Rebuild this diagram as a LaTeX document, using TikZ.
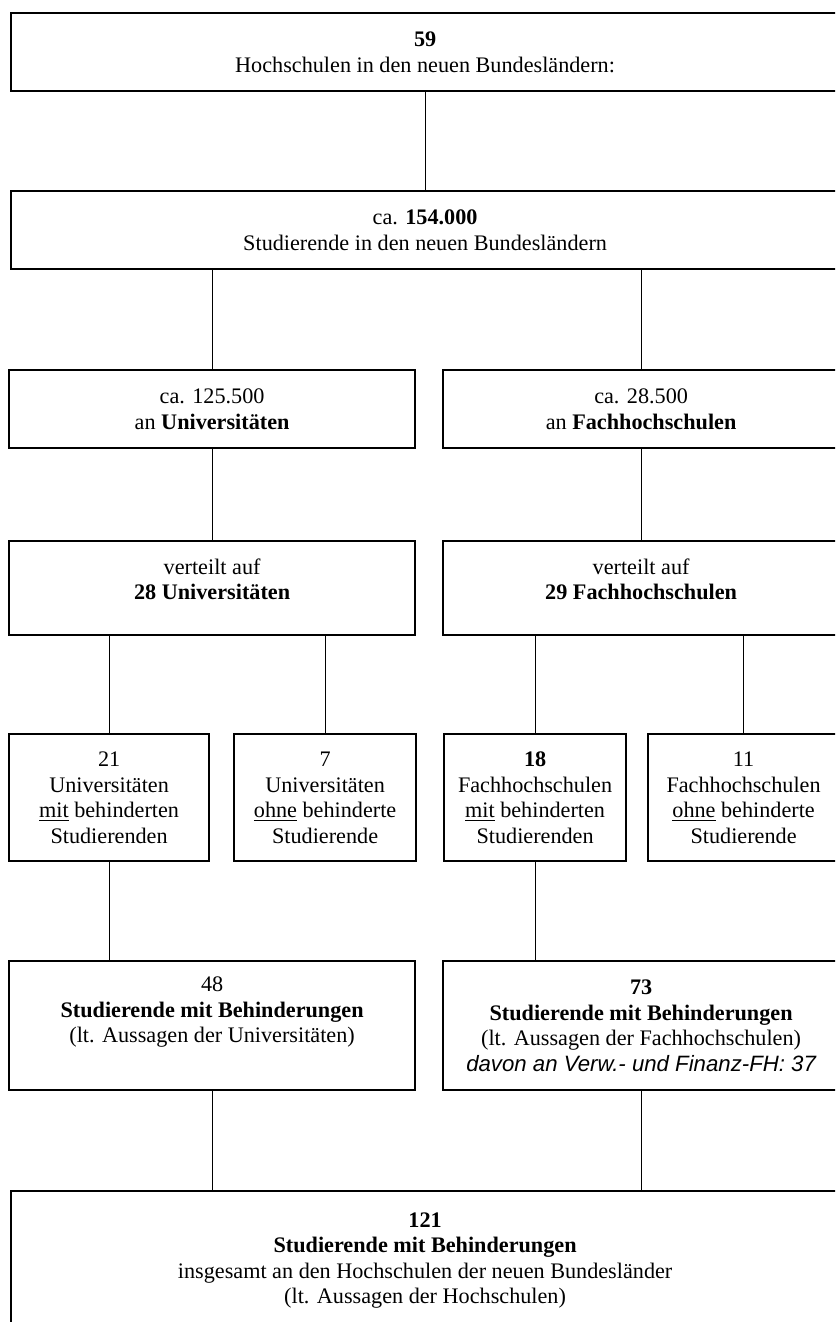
\documentclass[tikz,border=0pt]{standalone}
\usepackage{fontspec}
\setmainfont{Liberation Serif}
\newfontfamily\sansit{Liberation Sans}
\usetikzlibrary{calc}

\tikzset{
    box/.style={draw, line width=1.1pt, inner sep=0pt, align=center, anchor=north west,
                font=\fontsize{11.1}{12.75}\selectfont},
    link/.style={line width=0.55pt},
}

\begin{document}
\begin{tikzpicture}[x=0.5pt, y=-0.5pt]
    \useasboundingbox (0,0) rectangle (835,1322);
    \clip (0,0) rectangle (835,1322);

    % Hochschulen und Studierende
    \node[box, minimum width=414pt, minimum height=39pt] (hs) at (10,12)
        {\textbf{59}\\Hochschulen in den neuen Bundesländern:};
    \node[box, minimum width=414pt, minimum height=39pt] (stud) at (10,190)
        {ca. \textbf{154.000}\\Studierende in den neuen Bundesländern};

    % Universitaeten und Fachhochschulen
    \node[box, minimum width=203pt, minimum height=39pt] (uni) at (8,369)
        {ca. 125.500\\an \textbf{Universitäten}};
    \node[box, minimum width=198pt, minimum height=39pt] (fh) at (442,369)
        {ca. 28.500\\an \textbf{Fachhochschulen}};

    \node[box, minimum width=203pt, minimum height=47pt, text depth=9pt] (vuni) at (8,540)
        {verteilt auf\\\textbf{28 Universitäten}};
    \node[box, minimum width=198pt, minimum height=47pt, text depth=9pt] (vfh) at (442,540)
        {verteilt auf\\\textbf{29 Fachhochschulen}};

    % mit / ohne behinderte Studierende
    \node[box, minimum width=100pt, minimum height=63.5pt] (unimit) at (8,733)
        {21\\Universitäten\\\underline{mit} behinderten\\Studierenden};
    \node[box, minimum width=91pt, minimum height=63.5pt] (uniohne) at (233,733)
        {7\\Universitäten\\\underline{ohne} behinderte\\Studierende};
    \node[box, minimum width=91pt, minimum height=63.5pt] (fhmit) at (443,733)
        {\textbf{18}\\Fachhochschulen\\\underline{mit} behinderten\\Studierenden};
    \node[box, minimum width=95.5pt, minimum height=63.5pt] (fhohne) at (647,733)
        {11\\Fachhochschulen\\\underline{ohne} behinderte\\Studierende};

    % Studierende mit Behinderungen
    \node[box, minimum width=203pt, minimum height=64.5pt, text depth=15.5pt] (sbuni) at (8,960)
        {48\\\textbf{Studierende mit Behinderungen}\\(lt. Aussagen der Universitäten)};
    \node[box, minimum width=198pt, minimum height=64.5pt] (sbfh) at (442,960)
        {\textbf{73}\\\textbf{Studierende mit Behinderungen}\\(lt. Aussagen der Fachhochschulen)\\
         {\sansit\itshape davon an Verw.- und Finanz-FH: 37}};

    \node[box, minimum width=414pt, minimum height=69.5pt] (ges) at (10,1190)
        {\textbf{121}\\\textbf{Studierende mit Behinderungen}\\
         insgesamt an den Hochschulen der neuen Bundesländer\\(lt. Aussagen der Hochschulen)};

    % Verbindungen
    \draw[link] (hs.south) -- (stud.north);
    \draw[link] (stud.south -| uni.north) -- (uni.north);
    \draw[link] (stud.south -| fh.north) -- (fh.north);
    \draw[link] (uni.south) -- (vuni.north);
    \draw[link] (fh.south) -- (vfh.north);
    \draw[link] (vuni.south -| unimit.north) -- (unimit.north);
    \draw[link] (vuni.south -| uniohne.north) -- (uniohne.north);
    \draw[link] (vfh.south -| fhmit.north) -- (fhmit.north);
    \draw[link] (vfh.south -| fhohne.north) -- (fhohne.north);
    \draw[link] (unimit.south) -- (unimit.south |- sbuni.north);
    \draw[link] (fhmit.south) -- (fhmit.south |- sbfh.north);
    \draw[link] (sbuni.south) -- (sbuni.south |- ges.north);
    \draw[link] (sbfh.south) -- (sbfh.south |- ges.north);
\end{tikzpicture}
\end{document}
